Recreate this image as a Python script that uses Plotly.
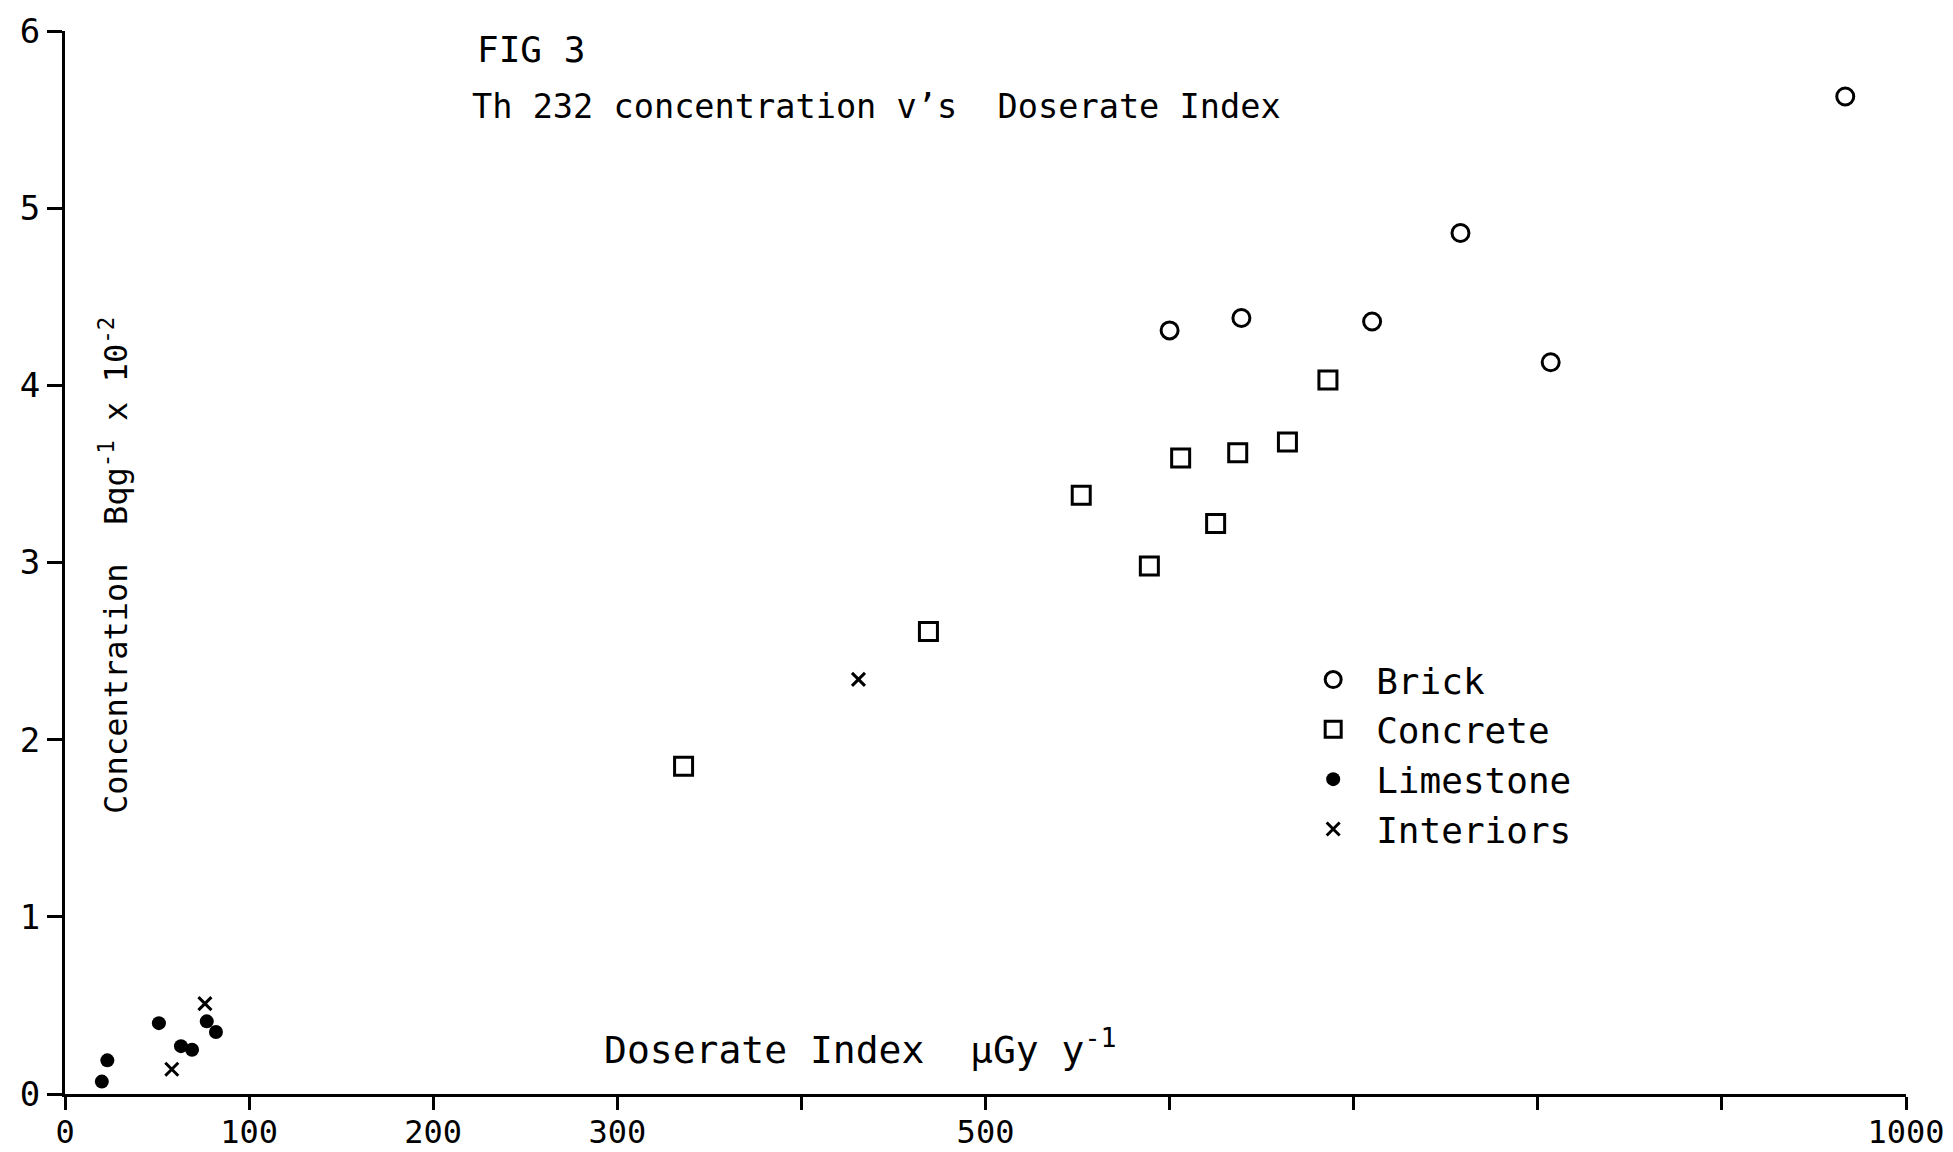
import plotly.graph_objects as go

# ---- data ----
brick_x = [600, 639, 710, 758, 807, 896, 967]
brick_y = [4.31, 4.38, 4.36, 4.86, 4.13, 6.16, 5.63]

concrete_x = [336, 469, 552, 589, 606, 625, 637, 664, 686]
concrete_y = [1.85, 2.61, 3.38, 2.98, 3.59, 3.22, 3.62, 3.68, 4.03]

limestone_x = [20, 23, 51, 63, 69, 77, 82]
limestone_y = [0.07, 0.19, 0.40, 0.27, 0.25, 0.41, 0.35]

interiors_x = [58, 76, 431]
interiors_y = [0.14, 0.51, 2.34]

x_tickvals = [0, 100, 200, 300, 500, 1000]          # labelled ticks
x_ticktext = ["0", "100", "200", "300", "500", "1000"]
x_tick_step = 100                                   # unlabelled ticks every 100
y_tickvals = [0, 1, 2, 3, 4, 5, 6]
y_ticktext = ["0", "1", "2", "3", "4", "5", "6"]

FONT = "DejaVu Sans Mono"
BLACK = "black"

fig = go.Figure()

fig.add_trace(go.Scatter(
    x=brick_x, y=brick_y, mode="markers", name="Brick", cliponaxis=False,
    marker=dict(symbol="circle-open", size=17, color=BLACK,
                line=dict(width=3, color=BLACK))))
fig.add_trace(go.Scatter(
    x=concrete_x, y=concrete_y, mode="markers", name="Concrete", cliponaxis=False,
    marker=dict(symbol="square-open", size=18, color=BLACK,
                line=dict(width=3, color=BLACK))))
fig.add_trace(go.Scatter(
    x=limestone_x, y=limestone_y, mode="markers", name="Limestone", cliponaxis=False,
    marker=dict(symbol="circle", size=14, color=BLACK,
                line=dict(width=0, color=BLACK))))
fig.add_trace(go.Scatter(
    x=interiors_x, y=interiors_y, mode="markers", name="Interiors", cliponaxis=False,
    marker=dict(symbol="x-thin", size=13, color=BLACK,
                line=dict(width=3, color=BLACK))))

axis_common = dict(
    showline=True, linewidth=3, linecolor=BLACK, mirror=False,
    ticks="outside", tickwidth=3, tickcolor=BLACK,
    showgrid=False, zeroline=False, automargin=False,
    ticklabeloverflow="allow",
)

fig.update_layout(
    template="none",
    width=1937, height=1144,
    margin=dict(l=57, r=39, t=23, b=58, pad=0),
    paper_bgcolor="white", plot_bgcolor="white",
    font=dict(family=FONT, color=BLACK),
    xaxis=dict(range=[0, 1000], tickmode="array", tickvals=x_tickvals,
               ticktext=x_ticktext, ticklen=13, ticklabelstandoff=-5,
               tickfont=dict(family=FONT, size=32, color=BLACK),
               minor=dict(ticks="outside", ticklen=13, tickwidth=3,
                          tickcolor=BLACK, tick0=0, dtick=x_tick_step,
                          showgrid=False),
               **axis_common),
    yaxis=dict(range=[0, 6], tickmode="array", tickvals=y_tickvals,
               ticktext=y_ticktext, ticklen=15,
               tickfont=dict(family=FONT, size=34, color=BLACK),
               **axis_common),
    showlegend=True,
    legend=dict(x=0.6655, y=0.418, xanchor="left", yanchor="top",
                bgcolor="rgba(0,0,0,0)", borderwidth=0,
                itemwidth=76, tracegroupgap=0,
                font=dict(family=FONT, size=36, color=BLACK)),
)

annotations = [
    dict(text="FIG 3", x=0.2225, y=0.983, xref="paper", yref="paper",
         xanchor="left", yanchor="middle", showarrow=False,
         font=dict(family=FONT, size=36, color=BLACK)),
    dict(text="Th 232 concentration v\u2019s\u00a0\u00a0Doserate Index",
         x=0.2200, y=0.9294, xref="paper", yref="paper",
         xanchor="left", yanchor="middle", showarrow=False,
         font=dict(family=FONT, size=33.6, color=BLACK)),
    dict(text="Doserate Index\u00a0\u00a0\u03bcGy y<sup>-1</sup>",
         x=0.2915, y=0.044, xref="paper", yref="paper",
         xanchor="left", yanchor="middle", showarrow=False,
         font=dict(family=FONT, size=38, color=BLACK)),
    dict(text="Concentration\u00a0\u00a0Bqg<sup>-1</sup> x 10<sup>-2</sup>",
         x=0.0266, y=0.4977, xref="paper", yref="paper", textangle=-90,
         xanchor="center", yanchor="middle", showarrow=False,
         font=dict(family=FONT, size=32, color=BLACK)),
]
fig.update_layout(annotations=annotations)

fig.write_html("out.html")
